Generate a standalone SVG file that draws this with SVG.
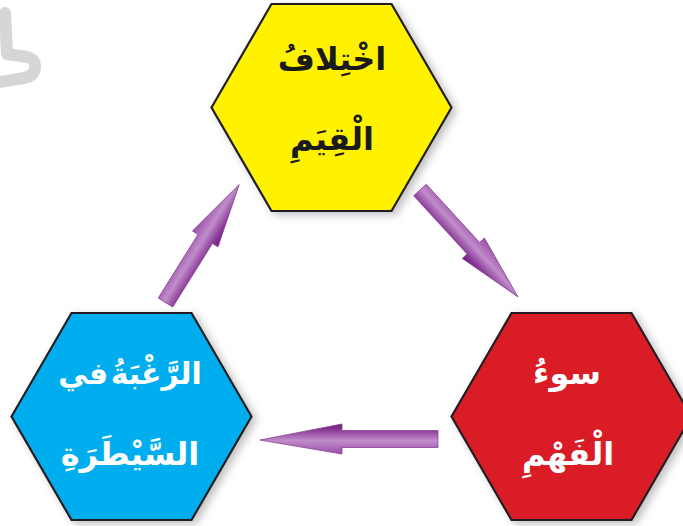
<svg xmlns="http://www.w3.org/2000/svg" width="683" height="526" viewBox="0 0 683 526">
  <style>
    .hex { stroke: #231f20; stroke-width: 2.2; stroke-linejoin: miter; filter: url(#shadow); }
    .lbl { font-family: "DejaVu Sans", sans-serif; font-weight: bold; font-size: 32px; text-anchor: middle; direction: rtl; }
    .dark { fill: #1a1a1a; }
    .light { fill: #ffffff; }
    .arrow { fill: url(#purple); stroke: #8a3f96; stroke-width: 0.8; }
  </style>
  <defs>
    <filter id="shadow" x="-20%" y="-20%" width="140%" height="140%">
      <feDropShadow dx="4" dy="3" stdDeviation="4" flood-color="#000000" flood-opacity="0.25"/>
    </filter>
    <linearGradient id="purple" x1="0" y1="0" x2="0" y2="1">
      <stop offset="0" stop-color="#9b4ea8"/>
      <stop offset="0.45" stop-color="#c08ccb"/>
      <stop offset="0.8" stop-color="#8a3a96"/>
      <stop offset="1" stop-color="#6a1c78"/>
    </linearGradient>
    <polygon id="hexshape" points="-120,0 -60,-103.5 60,-103.5 120,0 60,103.5 -60,103.5"/>
  </defs>

  <rect width="683" height="526" fill="#ffffff"/>

  <!-- light gray decoration at top-left -->
  <path d="M 5 13 L 7 54 L 27 57 Q 36 59 35 68 Q 34 76 24 78 L -6 83" fill="none" stroke="#d6d6d6" stroke-width="12" stroke-linecap="round" stroke-linejoin="round"/>

  <g id="connectors">
    <!-- yellow -> red -->
    <polygon class="arrow" transform="translate(420,190) rotate(47.5)" points="0,-8.5 79,-8.5 79,-15 145,0 79,15 79,8.5 0,8.5"/>
    <!-- red -> blue -->
    <polygon class="arrow" transform="translate(438,439) rotate(180)" points="0,-8.5 96,-8.5 96,-15 178,-1 96,15 96,8.5 0,8.5"/>
    <!-- blue -> yellow -->
    <polygon class="arrow" transform="translate(165.5,302.5) rotate(-58)" points="0,-8.5 75,-8.5 75,-15 139,0 75,15 75,8.5 0,8.5"/>
  </g>

  <g id="node-values">
    <use href="#hexshape" class="hex" transform="translate(331.5,107.5)" fill="#fff200"/>
    <text class="lbl dark" x="332" y="70">اخْتِلافُ</text>
    <text class="lbl dark" x="332" y="150">الْقِيَمِ</text>
  </g>

  <g id="node-misunderstanding">
    <use href="#hexshape" class="hex" transform="translate(571.5,416.5)" fill="#da1f26"/>
    <text class="lbl light" x="567" y="384">سوءُ</text>
    <text class="lbl light" x="568" y="465">الْفَهْمِ</text>
  </g>

  <g id="node-control">
    <use href="#hexshape" class="hex" transform="translate(131.5,416.5)" fill="#00aeef"/>
    <text class="lbl light" x="130" y="384" style="font-size:30px; word-spacing:-8px">الرَّغْبَةُ في</text>
    <text class="lbl light" x="130" y="465">السَّيْطَرَةِ</text>
  </g>
</svg>
